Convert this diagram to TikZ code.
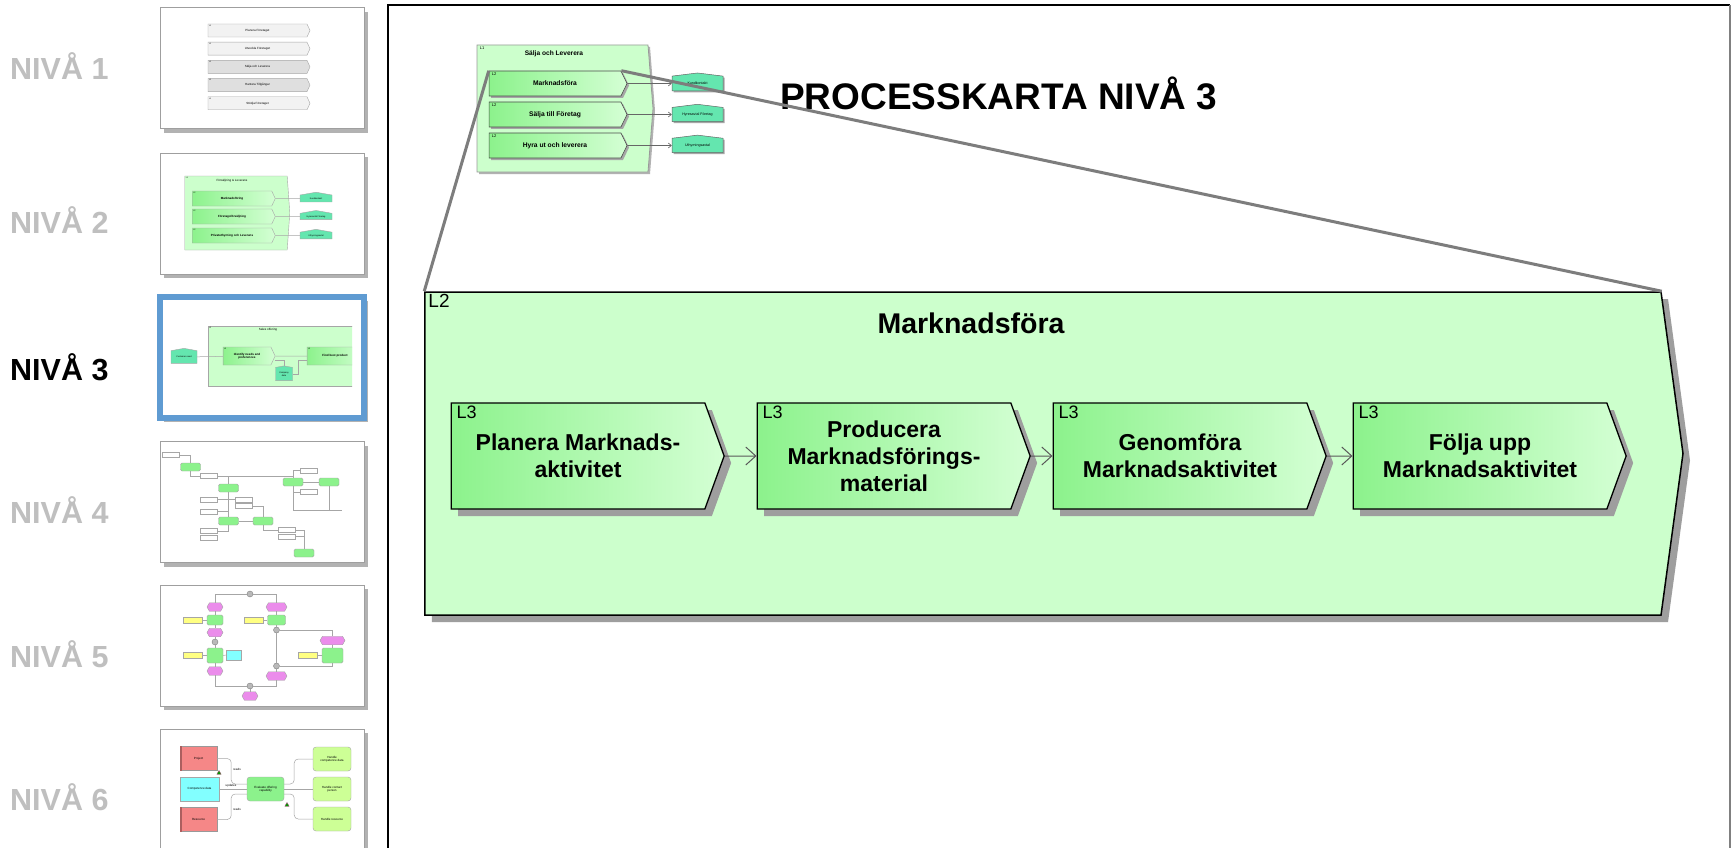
\documentclass[tikz,border=0pt]{standalone}
\usepackage{fontspec}
\setmainfont{Liberation Sans}
\usetikzlibrary{positioning,calc,shapes.symbols,shapes.geometric,shadows,arrows.meta}

\definecolor{pagegreen}{RGB}{204,255,204}
\definecolor{fnleft}{RGB}{140,242,140}
\definecolor{fnright}{RGB}{212,255,212}
\definecolor{ifcgreen}{RGB}{100,230,175}
\definecolor{nivagray}{RGB}{191,191,191}
\definecolor{selblue}{RGB}{95,155,210}
\definecolor{zoomgray}{RGB}{125,125,125}
\definecolor{evpink}{RGB}{235,140,235}
\definecolor{orgyellow}{RGB}{255,255,130}
\definecolor{infcyan}{RGB}{130,255,255}
\definecolor{clred}{RGB}{245,135,135}
\definecolor{limegreen}{RGB}{205,255,150}

\tikzset{
  niva/.style={anchor=base west, inner sep=0pt, text=nivagray, font=\bfseries\fontsize{30.5}{36}\selectfont},
  thumb/.style={draw=gray!75, fill=white, line width=1pt, minimum width=204, minimum height=121, drop shadow={shadow xshift=4pt, shadow yshift=-4pt, fill=black!30, opacity=1}},
  tline/.style={draw=gray!70, line width=.5pt},
  ttext/.style={inner sep=0pt, font=\fontsize{3}{3.5}\selectfont},
  ttag/.style={anchor=north west, inner sep=0pt, xshift=1pt, yshift=-1pt, font=\fontsize{2}{2}\selectfont},
  tchev/.style={signal, signal to=east, signal pointer angle=130, draw=gray!70, line width=.4pt, inner sep=0pt, minimum width=102, minimum height=13, font=\fontsize{3}{3.5}\selectfont},
  tcont/.style={signal, signal to=east, signal pointer angle=172, draw=gray!70, fill=pagegreen, line width=.4pt, inner sep=0pt},
  tfunc/.style={signal, signal to=east, signal pointer angle=130, draw=gray!70, left color=fnleft, right color=fnright, line width=.4pt, inner sep=0pt, font=\bfseries\fontsize{3}{3.5}\selectfont, align=center},
  tifc/.style={signal, signal to=north, signal pointer angle=160, draw=gray!70, fill=ifcgreen, line width=.4pt, inner sep=0pt, font=\fontsize{2.2}{2.6}\selectfont, align=center},
  tdoc/.style={draw=gray!70, fill=white, line width=.4pt, inner sep=0pt, minimum width=17, minimum height=5},
  tfn/.style={rounded corners=1.5pt, draw=gray!70, fill=fnleft, line width=.4pt, inner sep=0pt, font=\fontsize{3}{3.5}\selectfont, align=center},
  tev/.style={signal, signal to=east and west, signal pointer angle=120, draw=gray!70, fill=evpink, line width=.4pt, inner sep=0pt},
  torg/.style={draw=gray!70, fill=orgyellow, line width=.4pt, inner sep=0pt, minimum width=19, minimum height=6},
  tinf/.style={draw=gray!70, fill=infcyan, line width=.4pt, inner sep=0pt, font=\fontsize{3}{3.5}\selectfont},
  tcon/.style={circle, draw=gray, fill=gray!55, line width=.4pt, inner sep=0pt, minimum size=6},
  tcl/.style={draw=gray!80, fill=clred, line width=.4pt, inner sep=0pt, minimum width=37, minimum height=24, font=\fontsize{3}{3.5}\selectfont},
  tlime/.style={rounded corners=3pt, draw=gray!70, fill=limegreen, line width=.4pt, inner sep=0pt, minimum width=38, minimum height=24, font=\fontsize{3}{3.5}\selectfont, align=center},
  ticon/.style={regular polygon, regular polygon sides=3, fill=green!60!black, draw=magenta!70!black, line width=.3pt, inner sep=0pt, minimum size=5},
  % stora bilden
  maintitle/.style={anchor=base west, inner sep=0pt, font=\bfseries\fontsize{37}{44}\selectfont},
  cont/.style={signal, signal to=east, signal pointer angle=171, draw=gray!80, line width=.8pt, fill=pagegreen, inner sep=0pt, drop shadow={shadow xshift=2pt, shadow yshift=-2pt, fill=black!30, opacity=1}},
  stitle/.style={inner sep=0pt, font=\bfseries\fontsize{6.6}{8}\selectfont},
  stag/.style={anchor=north west, inner sep=0pt, xshift=3pt, yshift=-2pt, font=\fontsize{4}{4}\selectfont},
  sfunc/.style={signal, signal to=east, signal pointer angle=128, draw=black!70, line width=.6pt, left color=fnleft, right color=fnright, minimum width=138, minimum height=25, inner sep=0pt, font=\bfseries\fontsize{6.7}{8}\selectfont, drop shadow={shadow xshift=2pt, shadow yshift=-2pt, fill=black!35, opacity=1}},
  ifc/.style={signal, signal to=north, signal pointer angle=166, draw=black!60, line width=.5pt, fill=ifcgreen, minimum width=51, minimum height=16, inner sep=0pt, font=\fontsize{3.6}{4}\selectfont, drop shadow={shadow xshift=1.5pt, shadow yshift=-1.5pt, fill=black!35, opacity=1}},
  sflow/.style={draw=black!60, line width=.6pt, -{Straight Barb[length=3pt,width=5pt]}},
  zoomline/.style={draw=zoomgray, line width=3pt},
  bigbox/.style={signal, signal to=east, signal pointer angle=164.5, draw=black, line width=1.5pt, fill=pagegreen, minimum width=1258, minimum height=323, inner sep=0pt, drop shadow={shadow xshift=7pt, shadow yshift=-7pt, fill=black!38, opacity=1}},
  bigtitle/.style={inner sep=0pt, font=\bfseries\fontsize{28.5}{34}\selectfont},
  tag/.style={anchor=north west, inner sep=0pt, xshift=6pt, yshift=-3pt, font=\fontsize{18}{18}\selectfont},
  l3box/.style={signal, signal to=east, signal pointer angle=140, draw=black, line width=1.3pt, left color=fnleft, right color=fnright, minimum width=273, minimum height=106, inner sep=0pt, align=center, font=\bfseries\fontsize{23}{27}\selectfont, drop shadow={shadow xshift=7pt, shadow yshift=-7pt, fill=black!38, opacity=1}},
  flow/.style={draw=black!65, line width=1pt, -{Straight Barb[length=10pt,width=18pt]}}
}

\begin{document}
\begin{tikzpicture}[x=1pt,y=-1pt]
\fill[white] (0,0) rectangle (1731,848);
\useasboundingbox (0,0) rectangle (1731,848);

%% ram
\draw[line width=2pt] (388,848) -- (388,5) -- (1730,5);
\draw[line width=1.5pt, color=gray] (1730,5) -- (1730,848);

%% nivåer
\foreach \n/\y in {1/80,2/233,4/523,5/667,6/810}
  \node[niva] (niva\n) at (10,\y) {NIVÅ \n};
\node[niva, text=black] (niva3) at (10,380) {NIVÅ 3};

%% miniatyrer
\foreach \n/\y in {1/68.5,2/213.5,4/502,5/645.5,6/789.5}
  \node[thumb] (thumb\n) at (262,\y) {};
\node[thumb, draw=selblue, line width=6pt] (thumb3) at (262,357) {};

% nivå 1
\foreach \i/\txt/\col in {0/Planera Företaget/gray!10,1/Utveckla Företaget/gray!10,2/Sälja och Leverera/gray!25,3/Hantera Tillgångar/gray!25,4/Stödja Företaget/gray!10}{
  \node[tchev, fill=\col] (n1box\i) at (257.5,{30.5+18.2*\i}) {\txt};
  \node[ttag] (n1tag\i) at (n1box\i.west |- n1box\i.north) {L1};
}

% nivå 2
\node[tcont, minimum width=105, minimum height=74] (n2main) at (236,213) {};
\node[ttag] (n2tag) at (n2main.west |- n2main.north) {L1};
\node[ttext] (n2title) at (232,181) {Försäljning \& Leverans};
\foreach \i/\y/\txt/\ifctxt in {1/198.5/Marknadsföring/Kundkontakt,2/216.5/Företagsförsäljning/Hyresavtal Företag,3/235.5/Privatuthyrning och Leverans/Uthyrningsavtal}{
  \node[tfunc, minimum width=83, minimum height=15] (n2box\i) at (232,\y) {\txt};
  \node[ttag] (n2btag\i) at (n2box\i.west |- n2box\i.north) {L2};
  \node[tifc, minimum width=32, minimum height=8] (n2ifc\i) at (316,\y) {\ifctxt};
  \draw[tline] (n2box\i) -- (n2ifc\i);
}

% nivå 3
\begin{scope}
\clip (163,299) rectangle (352,414);
\node[draw=gray!70, fill=pagegreen, line width=.4pt, minimum width=160, minimum height=60] (n3main) at (288,356) {};
\node[ttag] (n3tag) at (n3main.north west) {L2};
\node[ttext] (n3title) at (268,330) {Sales offering};
\node[tifc, minimum width=26, minimum height=14] (n3ifc1) at (184,357) {Customer need};
\node[tfunc, minimum width=52, minimum height=18] (n3box1) at (247,356) {Identify needs and\\preferences};
\node[tfunc, minimum width=60, minimum height=18] (n3box2) at (335,356) {Find best product};
\node[tifc, minimum width=17, minimum height=14] (n3ifc2) at (284,374) {Company\\data};
\node[ttag] (n3btag1) at (n3box1.west |- n3box1.north) {L3};
\node[ttag] (n3btag2) at (n3box2.west |- n3box2.north) {L3};
\draw[tline] (n3ifc1) -- (n3box1);
\draw[tline] (n3box1) -- (n3box2);
\draw[tline] ([yshift=-4pt]n3box1.east) -| (n3ifc2.north);
\draw[tline] (n3ifc2.east) -- ++(6,0) |- ([yshift=-4pt]n3box2.west);
\end{scope}

% nivå 4
\foreach \i/\x/\y in {1/170.5/455,2/208.5/476,3/208.5/499.5,4/208.5/511.5,5/208.5/531,6/208.5/538,7/244/499.5,8/244/506,9/287/530,10/287/536.5,11/308.5/470.5,12/308.5/492}
  \node[tdoc] (n4doc\i) at (\x,\y) {};
\foreach \i/\x/\y in {1/190.5/467,2/228.5/488,3/228.5/521,4/263/521,5/293/482,6/329/482,7/304/553}
  \node[tfn, minimum width=20, minimum height=8] (n4fn\i) at (\x,\y) {};
\coordinate (n4end) at (342,510);
\draw[tline] (n4doc1) -| (n4fn1);
\draw[tline] (n4fn1) |- (n4doc2);
\draw[tline] (n4doc2) -| (n4fn2);
\draw[tline] (n4doc2) -| (n4fn5);
\draw[tline] (n4fn5) -- (n4fn6);
\draw[tline] (n4fn5) |- (n4doc11);
\draw[tline] (n4fn5) |- (n4doc12);
\draw[tline] (n4fn5) |- (n4end);
\draw[tline] (n4fn6) -- (n4fn6 |- n4end);
\draw[tline] (n4doc3) -| (n4fn3);
\draw[tline] (n4doc4) -| (n4fn3);
\draw[tline] (n4fn2) -- (n4fn3);
\draw[tline] (n4fn2) |- (n4doc7);
\draw[tline] (n4doc8) -| (n4fn4);
\draw[tline] (n4fn3) -- (n4fn4);
\draw[tline] (n4doc5) -| (n4fn3);
\draw[tline] (n4fn4) |- (n4doc9);
\draw[tline] (n4doc9) -| (n4fn7);
\draw[tline] (n4doc10) -| (n4fn7);

% nivå 5
\foreach \i/\x/\y/\w in {1/215/607/16,2/215/632.5/16,3/215/671/16,4/276.5/607/21,5/276.5/676/21,6/332.5/640.5/25,7/250/696/16}
  \node[tev, minimum width=\w, minimum height=8.5] (n5ev\i) at (\x,\y) {};
\node[tfn, minimum width=16, minimum height=10] (n5fn1) at (215,620) {};
\node[tfn, minimum width=16, minimum height=15] (n5fn2) at (215,655.5) {};
\node[tfn, minimum width=18, minimum height=10] (n5fn3) at (276.5,620) {};
\node[tfn, minimum width=21, minimum height=15] (n5fn4) at (332.5,655.5) {};
\foreach \i/\x/\y in {1/192.5/620,2/192.5/655.5,3/254/620,4/308/655.5}
  \node[torg] (n5org\i) at (\x,\y) {};
\node[tinf, minimum width=15, minimum height=10] (n5inf) at (233.5,655) {};
\foreach \i/\x/\y in {1/250/594,2/215/642,3/276.5/630,4/276.5/666,5/250/686}
  \node[tcon] (n5con\i) at (\x,\y) {};
\draw[tline] (n5ev1) |- (n5con1);
\draw[tline] (n5con1) -| (n5ev4);
\draw[tline] (n5ev1) -- (n5fn1) -- (n5ev2) -- (n5con2) -- (n5fn2) -- (n5ev3);
\draw[tline] (n5ev3) |- (n5con5);
\draw[tline] (n5con5) -| (n5ev5);
\draw[tline] (n5con5) -- (n5ev7);
\draw[tline] (n5ev4) -- (n5fn3) -- (n5con3) -- (n5con4) -- (n5ev5);
\draw[tline] (n5con3) -| (n5ev6);
\draw[tline] (n5ev6) -- (n5fn4);
\draw[tline] (n5fn4) |- (n5con4);
\foreach \i in {1,2,3,4}
  \draw[tline] (n5org\i) -- (n5fn\i);
\draw[tline] (n5fn2) -- (n5inf);

% nivå 6
\node[tcl] (n6proj) at (198.5,758.5) {Project};
\node[tinf, minimum width=39, minimum height=24] (n6comp) at (199.5,789) {Competence data};
\node[tcl] (n6res) at (198.5,819.5) {Resource};
\fill[clred!70!black] (n6proj.north west) rectangle ([xshift=2.5pt]n6proj.south west);
\fill[clred!70!black] (n6res.north west) rectangle ([xshift=2.5pt]n6res.south west);
\node[tfn, rounded corners=3pt, minimum width=37, minimum height=24] (n6eval) at (265.5,789) {Evaluate offering\\capability};
\foreach \i/\y/\txt in {1/759/{Handle\\competence data},2/789/{Handle contact\\person},3/819/{Handle resource}}
  \node[tlime] (n6hand\i) at (332,\y) {\txt};
\draw[tline, rounded corners=4pt] (n6proj.east) -- ++(14,0) |- ([yshift=5pt]n6eval.west);
\draw[tline] (n6comp) -- (n6eval);
\draw[tline, rounded corners=4pt] (n6res.east) -- ++(14,0) |- ([yshift=-5pt]n6eval.west);
\draw[tline, rounded corners=4pt] ([yshift=5pt]n6eval.east) -- ++(10,0) |- (n6hand1.west);
\draw[tline] (n6eval) -- (n6hand2);
\draw[tline, rounded corners=4pt] ([yshift=-5pt]n6eval.east) -- ++(10,0) |- (n6hand3.west);
\node[ttext] (n6lab1) at (237,769) {reads};
\node[ttext] (n6lab2) at (231,786) {updates};
\node[ttext] (n6lab3) at (237,809) {reads};
\node[ticon] (n6icon1) at (219,773) {};
\node[ticon] (n6icon2) at (287,805) {};

%% rubrik
\node[maintitle] (rubrik) at (780,110) {PROCESSKARTA NIVÅ 3};

%% nivå 2-karta (liten)
\node[cont, minimum width=176, minimum height=127] (salja) at (562.5,108.5) {};
\node[stag] (saljatag) at (salja.west |- salja.north) {L1};
\node[stitle] (saljatitle) at (554,54) {Sälja och Leverera};
\foreach \i/\y/\txt/\ifctxt in {1/83.5/Marknadsföra/Kundkontakt,2/114.5/Sälja till Företag/Hyresavtal Företag,3/145.5/Hyra ut och leverera/Uthyrningsavtal}{
  \node[sfunc] (sbox\i) at (555,\y) {\txt};
  \node[stag] (sboxtag\i) at (sbox\i.west |- sbox\i.north) {L2};
  \node[ifc] (sifc\i) at (697.5,\y) {\ifctxt};
  \draw[sflow] (sbox\i) -- (sifc\i);
}

%% stor L2
\node[bigbox] (marknad) at (1043,453.5) {};
\node[tag, font=\fontsize{19}{19}\selectfont, xshift=-2pt] (marknadtag) at (marknad.west |- marknad.north) {L2};
\node[bigtitle] (marknadtitle) at (971,323) {Marknadsföra};

\foreach \i/\x/\txt in {1/578/{Planera Marknads-\\aktivitet},2/884/{Producera\\Marknadsförings-\\material},3/1180/{Genomföra\\Marknadsaktivitet},4/1480/{Följa upp\\Marknadsaktivitet}}{
  \node[l3box] (steg\i) at (\x,456) {\txt};
  \node[tag] (stegtag\i) at (steg\i.west |- steg\i.north) {L3};
}
\foreach \a/\b in {1/2,2/3,3/4}
  \draw[flow] (steg\a) -- (steg\b);

%% zoomlinjer
\draw[zoomline] (sbox1.west |- sbox1.north) -- (marknad.west |- marknad.north);
\draw[zoomline] ($(sbox1.east |- sbox1.north)+(-6,0)$) -- ($(marknad.east |- marknad.north)+(-22,0)$);

\end{tikzpicture}
\end{document}
